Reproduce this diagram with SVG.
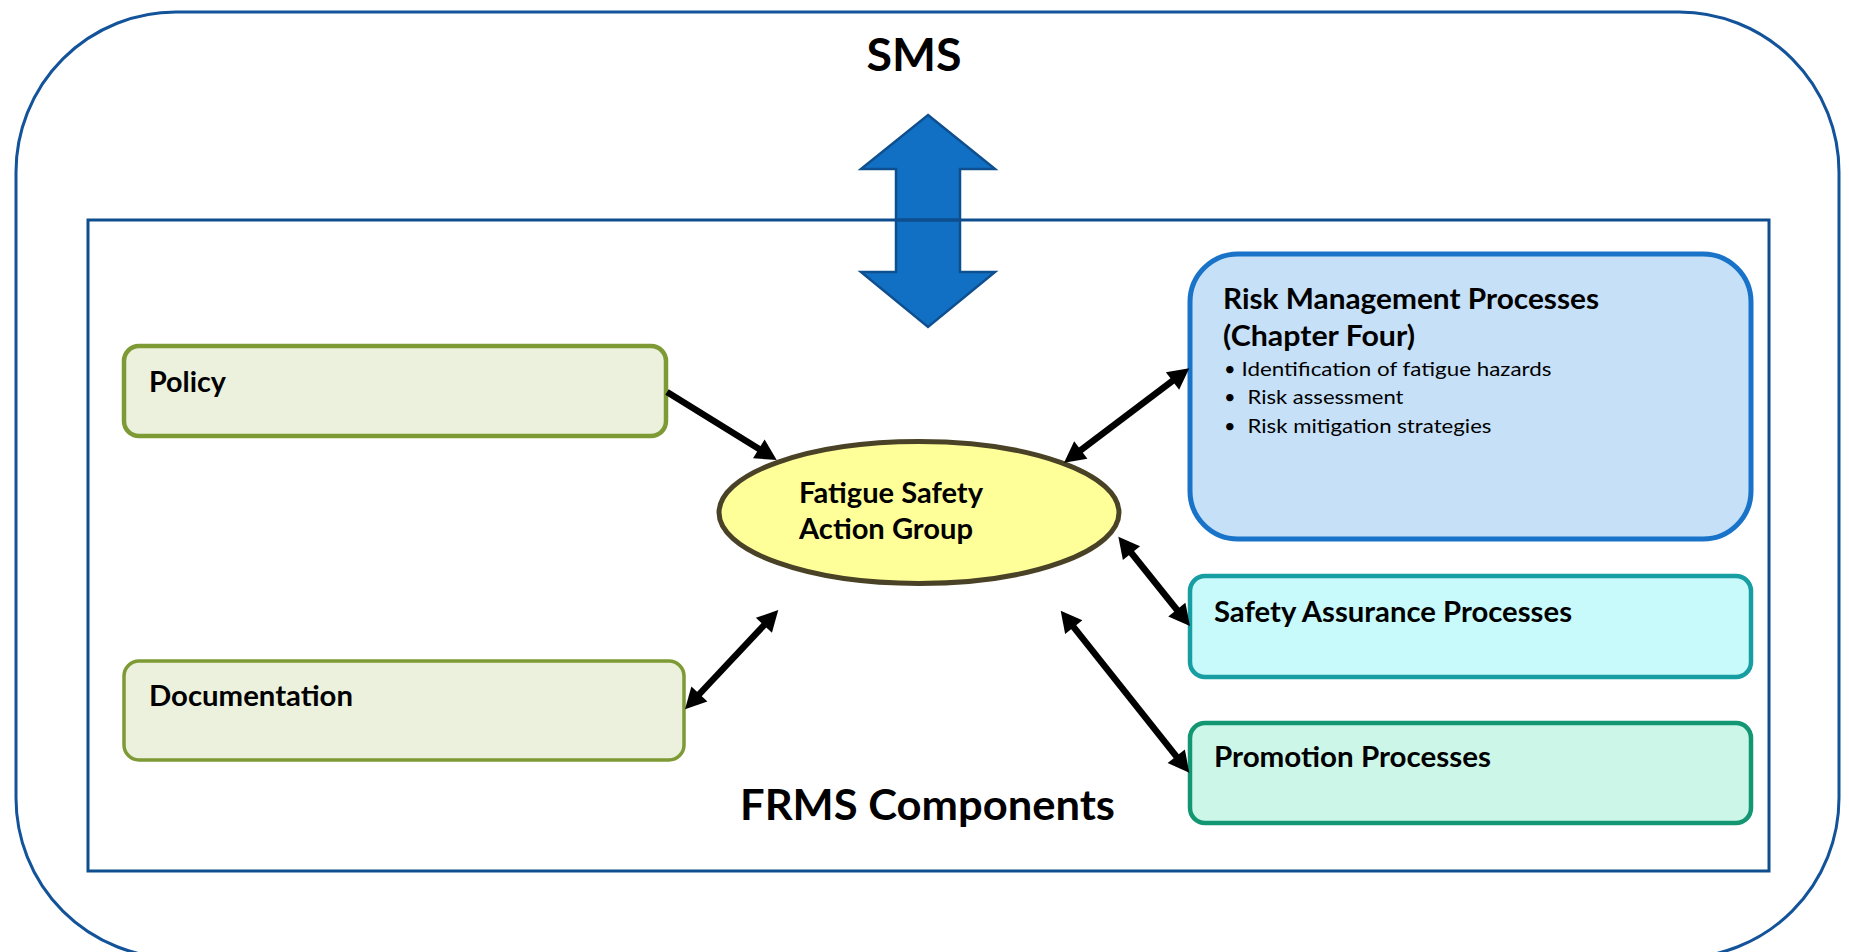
<svg xmlns="http://www.w3.org/2000/svg" width="1849" height="952" viewBox="0 0 1849 952">
<defs>
<style>
.t{font-family:Lato,"Open Sans","Liberation Sans",sans-serif;font-weight:bold;fill:#000}
.r{font-family:Lato,"Open Sans","Liberation Sans",sans-serif;font-weight:normal;fill:#000}
.con{stroke:#000;stroke-width:6.5;fill:none}
</style>
<marker id="ah" markerUnits="userSpaceOnUse" markerWidth="40" markerHeight="40" viewBox="-20 -20 40 40" refX="0" refY="0" orient="auto-start-reverse" overflow="visible">
<path d="M14,0 L-7,-11 L-7,11 Z" fill="#000"/>
</marker>
</defs>
<rect width="1849" height="952" fill="#fff"/>
<g id="sms">
<rect x="16" y="12" width="1823" height="946" rx="160" ry="160" fill="#fff" stroke="#13539A" stroke-width="3"/>
<text class="t" x="914" y="71" font-size="46" text-anchor="middle" textLength="95" lengthAdjust="spacingAndGlyphs">SMS</text>
</g>
<g id="sms-arrow">
<polygon points="928,115 995,169 960,169 960,272 995,272 928,327 861,272 896,272 896,169 861,169" fill="#1170C4" stroke="#0E4F8F" stroke-width="2.5" stroke-linejoin="miter"/>
</g>
<g id="frms">
<rect x="88" y="220" width="1681" height="651" fill="none" stroke="#0E4E8E" stroke-width="3"/>
<text class="t" x="740" y="820" font-size="42" textLength="375" lengthAdjust="spacingAndGlyphs">FRMS Components</text>
</g>
<g id="policy">
<rect x="124" y="346" width="542" height="90" rx="15" ry="15" fill="#EBF1DD" stroke="#7E9A35" stroke-width="4.5"/>
<text class="t" x="149" y="392" font-size="29" textLength="77" lengthAdjust="spacingAndGlyphs">Policy</text>
</g>
<g id="documentation">
<rect x="124" y="661" width="560" height="99" rx="15" ry="15" fill="#EBF1DD" stroke="#7E9A35" stroke-width="3.5"/>
<text class="t" x="149" y="706" font-size="29" textLength="204" lengthAdjust="spacingAndGlyphs">Documentation</text>
</g>
<g id="fsag">
<ellipse cx="919" cy="512.5" rx="200" ry="71" fill="#FFFF99" stroke="#4A4226" stroke-width="5"/>
<text class="t" x="799" y="503" font-size="29" textLength="184" lengthAdjust="spacingAndGlyphs">Fatigue Safety</text>
<text class="t" x="799" y="539" font-size="29" textLength="174" lengthAdjust="spacingAndGlyphs">Action Group</text>
</g>
<g id="risk">
<rect x="1190" y="254" width="561" height="285" rx="48" ry="48" fill="#C6E0F8" stroke="#1873C9" stroke-width="5"/>
<text class="t" x="1223" y="309" font-size="28" textLength="376" lengthAdjust="spacingAndGlyphs">Risk Management Processes</text>
<text class="t" x="1223" y="346" font-size="28" textLength="192" lengthAdjust="spacingAndGlyphs">(Chapter Four)</text>
<text class="r" x="1224" y="376" font-size="20">•</text>
<text class="r" x="1241.5" y="376" font-size="20" textLength="310" lengthAdjust="spacingAndGlyphs">Identification of fatigue hazards</text>
<text class="r" x="1224" y="404" font-size="20">•</text>
<text class="r" x="1247.5" y="404" font-size="20" textLength="156" lengthAdjust="spacingAndGlyphs">Risk assessment</text>
<text class="r" x="1224" y="433" font-size="20">•</text>
<text class="r" x="1247.5" y="433" font-size="20" textLength="244" lengthAdjust="spacingAndGlyphs">Risk mitigation strategies</text>
</g>
<g id="safety">
<rect x="1190" y="576" width="561" height="101" rx="15" ry="15" fill="#C8FAFB" stroke="#179EA3" stroke-width="4.5"/>
<text class="t" x="1214" y="622" font-size="28" textLength="358" lengthAdjust="spacingAndGlyphs">Safety Assurance Processes</text>
</g>
<g id="promotion">
<rect x="1190" y="723" width="561" height="100" rx="15" ry="15" fill="#CCF7E8" stroke="#139672" stroke-width="4.5"/>
<text class="t" x="1214" y="767" font-size="28" textLength="277" lengthAdjust="spacingAndGlyphs">Promotion Processes</text>
</g>
<g id="frame-line">
<line x1="896" y1="220" x2="960" y2="220" stroke="#0E4E8E" stroke-width="3"/>
</g>
<g id="connectors">
<line class="con" x1="667" y1="392" x2="764.8" y2="452.6" marker-end="url(#ah)"/>
<line class="con" x1="1075.2" y1="454.3" x2="1178.1" y2="376.7" marker-start="url(#ah)" marker-end="url(#ah)"/>
<line class="con" x1="1127.1" y1="547.6" x2="1181.2" y2="615.1" marker-start="url(#ah)" marker-end="url(#ah)"/>
<line class="con" x1="1069.4" y1="621.7" x2="1180.6" y2="761.7" marker-start="url(#ah)" marker-end="url(#ah)"/>
<line class="con" x1="694.6" y1="699.1" x2="768.7" y2="620.2" marker-start="url(#ah)" marker-end="url(#ah)"/>
</g>
</svg>
